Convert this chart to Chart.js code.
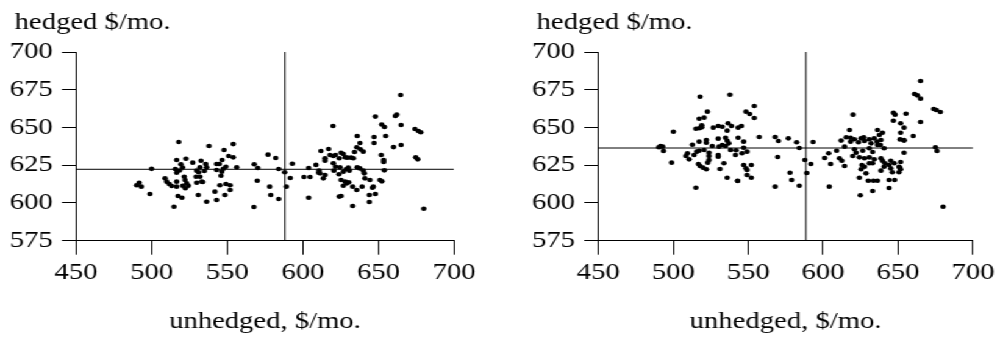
<!DOCTYPE html>
<html><head><meta charset="utf-8">
<script src="https://cdn.jsdelivr.net/npm/chart.js@4"></script>
<style>
html,body{margin:0;padding:0;background:#fff;overflow:hidden;width:1000px;height:339px}
#wrap{position:absolute;left:0;top:0;width:820px;height:339px;transform:scaleX(1.2195);transform-origin:0 0}
canvas{position:absolute;top:0}
</style></head><body>
<div id="wrap"><canvas id="c1" width="410" height="339" style="left:0px"></canvas><canvas id="c2" width="410" height="339" style="left:410px"></canvas></div>
<script>
const xTicks = [450, 500, 550, 600, 650, 700];
const yTicks = [575, 600, 625, 650, 675, 700];
const yTitle = 'hedged $/mo.';
const xTitle = 'unhedged, $/mo.';

// [unhedged, hedged] pairs, left panel
const leftPairs = [
[490.1,611.7],[491.8,613.4],[493.2,610.8],[498.9,605.9],[500,622.6],
[508.9,616.3],[510,614.1],[511.7,612.6],[513.3,611.2],[516.6,614.1],[516.6,610.8],[517.5,604.6],[520.1,603.5],[514.8,597.5],
[518,640.4],[516.6,628.5],[522.7,629.3],[527.2,626.7],[532.7,628],
[519.4,625.6],[515.7,622.5],[516.6,620],[518.5,621.5],[520.5,623.5],
[521.6,617.4],[522.1,615.2],[523.2,613],[520.6,611.4],[522.3,609.7],[524.3,611.4],
[529.8,621.4],[531.1,620.3],[532,623.6],[534.9,621.2],[532,617.4],[529.4,617.4],[533.1,614.1],[529.8,613.4],[533.8,613.9],
[530.9,605.3],[536.4,600.8],
[535.8,625.8],[536.4,623.6],[538,637.7],[544.8,625.8],[546.6,628.5],[543,621.8],[547.4,622.7],[549.2,624],[556.3,623.6],
[545.9,618],[546.4,620.7],[545.2,611.7],[549.2,612.6],[551.9,608.6],[551.9,611.7],[541.9,607.5],[543,602],[548.5,605.3],
[547.9,635.1],[554,639],[551,631.1],[554,630.2],[543,625.8],
[567.9,625.6],[570.2,623.2],[577,632],[582.1,629.8],[569.9,614.7],[578.1,610.8],[578.8,605.3],[584.1,602.6],[567.7,597.3],[584.1,622.5],
[588,620.3],[593.1,626],[591.7,616.5],[589.1,610.8],[600.8,617.2],[604.8,617.2],[603.9,623.2],[608.7,625.2],[610.5,620],[603.9,603.5],
[612,634.4],[617.1,635.7],[614.7,629.6],[614.7,628],[618,631.8],[620.2,631.1],[621.6,631.8],[624.1,629.6],[625.3,633.3],[626.8,632.4],
[628,630.2],[629.5,630],[632,630],[633.5,629.6],[634.2,633.8],[635.7,636.9],[638.1,635.5],[640,634],[637.8,639.7],[636,644.4],
[620.2,626.3],[621.6,624],[624.6,623.6],[620.6,621.4],[623.9,619],[626.8,620.7],[628.6,622.3],[630.8,621.4],[630.1,623.4],
[625.3,615.2],[628,614.1],[629.1,613],[626.8,611.4],[630.4,613.7],[633,610.8],[635.7,608.6],[639.2,610.8],
[636,623.6],[637.8,622.9],[640,621.4],[640.7,619.6],[641.1,616.3],[644.4,615.2],[646.6,610.8],
[611.4,619.6],[614.7,618.5],[613.6,616.3],[610.7,621.5],
[624.1,604.2],[625.3,604.6],[633,598],[644,605.3],[648,605.9],[644,600.6],[646,610.1],
[651,615.2],[652.3,614.3],[653.9,621.6],[651.9,631.8],[653.5,628.5],[653.5,627.1],
[620,651],[648,657.2],[652.2,652],[654,650.3],[661.2,657.6],[662.1,658.5],[664.7,671.5],[665,651.6],[665,638.4],[660,637],
[647.1,643.7],[647.1,639.7],[654.8,644.4],
[674.2,649],[676.4,647.7],[678,646.8],[674.7,630.2],[676,628.9],[680,596.2]
];

// [unhedged, hedged] pairs, right panel
const rightPairs = [
[491.5,637.7],[493,637.3],[490.4,636.9],[493.5,634.4],[498.9,626.7],[500.1,647.2],
[517.9,670.4],[537.8,671.7],[522.8,660.5],[517.3,655.8],[520.6,656.5],
[515.1,649.2],[517.3,649.5],[519,650.1],[519,651.4],[526.7,649.9],[530,651],[532.7,650.5],[536,647.9],[536.6,652.8],[538.9,651],
[512.8,638.6],[517.3,640.6],[522.1,641.7],[522.1,639.9],[523.9,633.3],[526,637.7],
[530,642.6],[534.9,643.2],[536,641.2],[537.1,639.5],[532.7,638.4],[530.5,637.3],[534.9,637.7],
[509.5,632.9],[508.5,631.1],[510.6,628.9],[513.9,631.8],[515.7,634],[517.3,634.6],[520.6,635.1],[523.9,631.1],[530,631.8],[530,630.6],
[516.8,625.8],[517.9,624.5],[519.9,623.4],[522.1,622.3],[523,626.7],[523.9,628.5],
[531.2,622.5],[533.8,626.3],[536,616.7],[542.9,614.7],[515.1,610.1],
[538.2,635.1],[541.5,631.8],[541.9,634.9],[545.9,632.9],[547,640.6],[548.5,660.5],
[547,625.1],[548.5,623],[549.2,618.5],
[554.1,664.2],[551,658.9],[554.1,656.3],[543.3,649.9],[545.5,651],
[543.3,643.2],[557.4,643.7],[547,636.6],[549.2,634],
[552.1,625.1],[549.2,621.8],[552.1,616.7],[543,614.5],
[568,643.7],[570.2,641],[576.8,642.8],[582.3,640.2],[584.1,636.4],[569.7,630.4],[568,610.8],[577.9,620],[579,615.2],[584.1,611.4],
[593.3,640.4],[587.8,628.5],[589.1,619.8],[591.8,625.8],[601,629.8],[603.7,632.9],[605,625.8],[609,634.6],[604.1,610.8],
[665,680.8],[661,672.2],[662.8,671.3],[665,669.1],[620,658.5],[646.9,659.8],[648,658.5],[655.3,659.1],[673.8,662.2],[675.5,661.6],[678.2,660.3],
[646.9,654.5],[651.7,652.8],[665,653.6],[654,649.9],[651.7,646.5],[660.1,644.4],[654,641.3],
[617.6,648.3],[612,641.3],[615.4,643.5],[618.3,643.2],[620.9,642.2],[625.3,642.8],[627.1,643.5],[630.8,642.2],[634.1,642.8],[636.3,648.3],[637.5,645],[639.6,646.5],
[618.3,640.6],[623.6,640.2],[627.6,641],[632,639.5],[636,640.6],[638.6,641.7],[638.2,638.4],
[614.3,637.3],[620.9,635.5],[622,633.3],[626.4,634.6],[630.8,636.2],[633,633.8],[636.3,638.4],[640.7,636.2],
[610.9,629.6],[612.5,628],[614.3,624.5],[619.8,631.1],[624.2,630.2],[627.6,629.6],[630.8,630.2],[634.1,628.9],[638.6,629.6],[639.6,628],
[641.2,626.3],[645.1,628],[647.4,626.3],[651.7,627.1],[654,633.3],
[625.9,625.1],[627.6,624],[630.8,626.3],[633,626.3],[628.6,619.6],[625.3,622.3],[638.6,621.4],[640.7,624],[644,625.1],[645.1,622.9],[650.6,624],[651.7,622.3],
[624.2,616.7],[630.1,614.7],[633.5,614.7],[636.3,614.7],[644,615.2],[647.7,615.2],[646.2,620.3],[650.6,620.3],
[624.8,605.1],[633,607.9],[644,609.9],
[680,597.5],[674.9,636.9],[676,634.4],[654,641.6],[651.3,642.1],[651.1,623.4]
];

// [mean unhedged, mean hedged] reference lines
const leftMean = [588.2, 622.3];
const rightMean = [588.5, 636.4];

const FONT = '"Liberation Serif", "Times New Roman", serif';
const FSIZE = 23.5;

const labelPlugin = {
  id: 'ylab',
  afterDraw(chart, args, opts) {
    const c = chart.ctx;
    c.save();
    c.font = FSIZE + 'px ' + FONT;
    c.fillStyle = '#000';
    c.textBaseline = 'alphabetic';
    c.textAlign = 'left';
    c.fillText(opts.text, opts.x, opts.y);
    c.restore();
  }
};

function makeChart(id, pairs, mean, axisW, padRight, labelX) {
  const pts = pairs.map(p => ({x: p[0], y: p[1]}));
  const x0 = xTicks[0], x1 = xTicks[xTicks.length - 1];
  const y0 = yTicks[0], y1 = yTicks[yTicks.length - 1];
  const lineDs = (data) => ({type: 'line', data, borderColor: '#000', borderWidth: 1, pointRadius: 0, showLine: true, fill: false, order: 2});
  new Chart(document.getElementById(id), {
    type: 'scatter',
    data: {datasets: [
      {data: pts, pointRadius: 2.3, pointBackgroundColor: '#000', pointBorderWidth: 0, pointBorderColor: '#000', showLine: false, order: 1},
      lineDs([{x: mean[0], y: y0}, {x: mean[0], y: y1}]),
      lineDs([{x: x0, y: mean[1]}, {x: x1, y: mean[1]}])
    ]},
    plugins: [labelPlugin],
    options: {
      responsive: false, animation: false, devicePixelRatio: 1,
      events: [],
      layout: {autoPadding: false, padding: {left: 0, right: padRight, top: 52, bottom: 0}},
      plugins: {legend: {display: false}, tooltip: {enabled: false}, ylab: {text: yTitle, x: labelX, y: 28.5}},
      scales: {
        x: {
          type: 'linear', min: x0, max: x1,
          afterBuildTicks: s => { s.ticks = xTicks.map(v => ({value: v})); },
          afterFit: s => { s.height = 339 - 240.7; },
          grid: {display: true, drawOnChartArea: false, drawTicks: true, tickLength: 14, color: '#000', lineWidth: 1},
          border: {display: true, color: '#000', width: 1},
          ticks: {font: {family: FONT, size: FSIZE}, color: '#000', padding: 4.5, maxRotation: 0, autoSkip: false},
          title: {display: true, text: xTitle, font: {family: FONT, size: FSIZE}, color: '#000', padding: {top: 0, bottom: 3}}
        },
        y: {
          type: 'linear', min: y0, max: y1,
          afterBuildTicks: s => { s.ticks = yTicks.map(v => ({value: v})); },
          afterFit: s => { s.width = axisW; },
          grid: {display: true, drawOnChartArea: false, drawTicks: true, tickLength: 11.5, color: '#000', lineWidth: 1},
          border: {display: true, color: '#000', width: 1},
          ticks: {font: {family: FONT, size: FSIZE}, color: '#000', padding: 7.5, autoSkip: false}
        }
      }
    }
  });
}

function draw() {
  makeChart('c1', leftPairs, leftMean, 62.3, 410 - 372.3, 12);
  makeChart('c2', rightPairs, rightMean, 80.6, 410 - 390.9, 30);
}
if (document.fonts && document.fonts.load) {
  document.fonts.load(FSIZE + 'px "Liberation Serif"').then(draw, draw);
} else { draw(); }
</script>
</body></html>
